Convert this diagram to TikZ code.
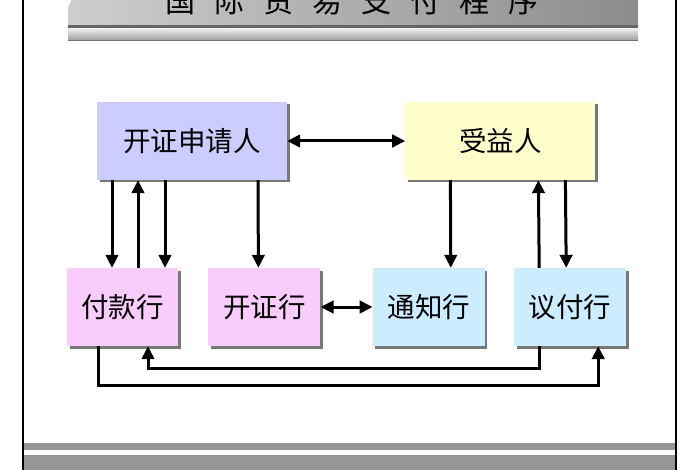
\documentclass[tikz,border=0pt]{standalone}
\usepackage{fontspec}
\newfontfamily\cjk{Noto Sans CJK SC}
\usepackage{tikz}
\usetikzlibrary{arrows.meta,positioning,shadows}
\definecolor{appfill}{RGB}{204,204,255}
\definecolor{benfill}{RGB}{255,255,204}
\definecolor{bankpink}{RGB}{250,204,252}
\definecolor{bankblue}{RGB}{204,236,255}
\definecolor{shadowgray}{RGB}{120,120,120}
\definecolor{barlight}{RGB}{206,206,206}
\definecolor{bardark}{RGB}{140,140,140}
\definecolor{bandgray}{RGB}{150,150,150}

\begin{document}
\begin{tikzpicture}[
  x=1pt, y=-1pt,
  every node/.style={font=\cjk\fontsize{27.5}{30}\selectfont, text=black},
  box/.style={minimum width=112pt, minimum height=78pt, inner sep=0pt,
              drop shadow={shadow xshift=2.5pt, shadow yshift=-2.5pt,
                           fill=shadowgray, opacity=1}},
  arr/.style={-{Triangle[length=13pt,width=12.5pt]}, line width=3pt},
  dbl/.style={{Triangle[length=13pt,width=12.5pt]}-{Triangle[length=13pt,width=12.5pt]}, line width=3pt}
]
\useasboundingbox (0,0) rectangle (700,470);
\fill[white] (0,0) rectangle (700,470);

\shade[left color=barlight, right color=bardark]
  (68,27) [rounded corners=25pt] -- (68,-12) [sharp corners] -- (638,-12) -- (638,27) -- cycle;
\fill[black!60] (68,25.5) rectangle (638,28);
\shade[top color=white!92!black, bottom color=black!40] (68,29) rectangle (638,41);
\draw[black!55, line width=1pt] (68,41) -- (638,41);
\node[font=\cjk\fontsize{30}{30}\selectfont, anchor=base, inner sep=0pt] (title) at (352,13)
  {国\hspace{19pt}际\hspace{19pt}贸\hspace{19pt}易\hspace{19pt}支\hspace{19pt}付\hspace{19pt}程\hspace{19pt}序};

\fill[bandgray] (23,443) rectangle (676,450);
\fill[bandgray] (23,455) rectangle (676,470);
\draw[line width=2pt] (23,0) -- (23,470);
\draw[line width=2pt] (676,0) -- (676,470);

\node[box, fill=appfill, minimum width=190pt] (app) at (192,141) {开证申请人};
\node[box, fill=benfill, minimum width=190pt, right=118pt of app] (ben) {受益人};
\node[box, fill=bankpink, minimum width=111pt] (pay) at (122.5,307) {付款行};
\node[box, fill=bankpink, right=30pt of pay] (iss) {开证行};
\node[box, fill=bankblue, right=52pt of iss] (adv) {通知行};
\node[box, fill=bankblue, right=29pt of adv] (neg) {议付行};

\draw[dbl] (app.east) -- (app.east -| ben.west);
\draw[arr] ([xshift=-80pt]app.south) -- ([xshift=-10.5pt]pay.north);
\draw[arr] ([xshift=15.5pt]pay.north) -- ([xshift=-54pt]app.south);
\draw[arr] ([xshift=-27pt]app.south) -- ([xshift=42.5pt]pay.north);
\draw[arr] ([xshift=66pt]app.south) -- ([xshift=-6pt]iss.north);
\draw[dbl] (iss.east) -- (adv.west);
\draw[arr] ([xshift=-50pt]ben.south) -- ([xshift=22pt]adv.north);
\draw[arr] ([xshift=-31pt]neg.north) -- ([xshift=38pt]ben.south);
\draw[arr] ([xshift=65pt]ben.south) -- ([xshift=-4pt]neg.north);
\draw[arr] ([xshift=-31pt]neg.south) -- ++(0,22) -| ([xshift=25.5pt]pay.south);
\draw[arr] ([xshift=-24.5pt]pay.south) -- ++(0,39) -| ([xshift=28pt]neg.south);
\end{tikzpicture}
\end{document}
